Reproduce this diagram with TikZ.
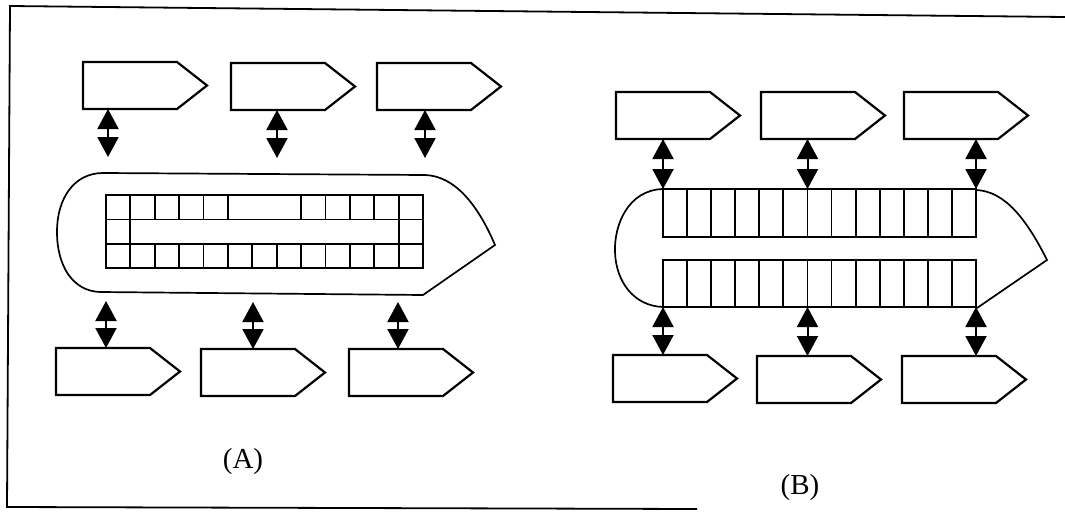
\documentclass[tikz,border=0pt]{standalone}
\usepackage{fontspec}
\setmainfont{Liberation Serif}
\usetikzlibrary{arrows.meta,calc}
\begin{document}
\begin{tikzpicture}[x=1pt,y=-1pt,
  stagebox/.style={minimum width=94pt, minimum height=47pt, inner sep=0pt, outer sep=0pt, anchor=north west},
  stageline/.style={draw, line width=2.2pt, line join=miter},
  dbl/.style={{Triangle[width=21pt,length=20pt]}-{Triangle[width=21pt,length=20pt]}, line width=2pt},
  gridline/.style={line width=1.8pt},
  hull/.style={line width=1.7pt},
  frame/.style={line width=1.8pt},
  lbl/.style={font=\fontsize{29}{33}\selectfont, inner sep=0pt}]
\useasboundingbox (0,0) rectangle (1065,514);
% frame
\draw[frame] (697,509) -- (7,507) -- (10,6) -- (1065,17);

% ---------- (A) ----------
\node[stagebox] (tA1) at (83,62) {};
\node[stagebox] (tA2) at (231,63) {};
\node[stagebox] (tA3) at (377,63) {};
\node[stagebox] (bA1) at (56,348) {};
\node[stagebox] (bA2) at (201,349) {};
\node[stagebox] (bA3) at (349,349) {};

% hull A
\draw[hull] (103,173) -- (425,175) .. controls (455,176) and (478,205) .. (495,245) -- (423,295) -- (100,292)
  .. controls (72,291) and (57,265) .. (57,232) .. controls (57,197) and (75,173) .. (103,173) -- cycle;
% grid A
\draw[gridline] (106,195) rectangle (423,268);
\draw[gridline] (106,219.5) -- (423,219.5) (106,244) -- (423,244);
\foreach \i in {1,2,3,4,5,8,9,10,11,12}
  \draw[gridline] ({106+\i*24.385},195) -- ({106+\i*24.385},219.5);
\foreach \i in {1,12}
  \draw[gridline] ({106+\i*24.385},219.5) -- ({106+\i*24.385},244);
\foreach \i in {1,...,12}
  \draw[gridline] ({106+\i*24.385},244) -- ({106+\i*24.385},268);

\coordinate (eA1) at (108,157);
\coordinate (eA2) at (277,158);
\coordinate (eA3) at (425,158);
\coordinate (fA1) at (106,301);
\coordinate (fA2) at (253,302);
\coordinate (fA3) at (398,302);
\draw[dbl] (tA1.south west -| eA1) -- (eA1);
\draw[dbl] (tA2.south west -| eA2) -- (eA2);
\draw[dbl] (tA3.south west -| eA3) -- (eA3);
\draw[dbl] (fA1) -- (bA1.north west -| fA1);
\draw[dbl] (fA2) -- (bA2.north west -| fA2);
\draw[dbl] (fA3) -- (bA3.north west -| fA3);

\node[lbl] (labA) at (243,462) {(A)};

% ---------- (B) ----------
\node[stagebox] (tB1) at (616,92) {};
\node[stagebox] (tB2) at (761,92) {};
\node[stagebox] (tB3) at (904,92) {};
\node[stagebox] (bB1) at (613,355) {};
\node[stagebox] (bB2) at (757,356) {};
\node[stagebox] (bB3) at (902,356) {};

% hull B
\draw[hull] (663,189) .. controls (628,190) and (614,225) .. (615,252) .. controls (616,282) and (634,306) .. (663,307);
\draw[hull] (976,190) .. controls (1005,191) and (1027,220) .. (1047,260) -- (977,308);
% grids B
\draw[gridline] (663,189) rectangle (976,237);
\draw[gridline] (663,260) rectangle (976,307);
\foreach \i in {1,...,12}{
  \draw[gridline] ({663+\i*24.077},189) -- ({663+\i*24.077},237);
  \draw[gridline] ({663+\i*24.077},260) -- ({663+\i*24.077},307);
}
\coordinate (gBt0) at (663,189);
\coordinate (gBt6) at (807.5,189);
\coordinate (gBt13) at (976,189);
\coordinate (gBb0) at (663,307);
\coordinate (gBb6) at (807.5,307);
\coordinate (gBb13) at (976,307);
\draw[dbl] (tB1.south west -| gBt0) -- (gBt0);
\draw[dbl] (tB2.south west -| gBt6) -- (gBt6);
\draw[dbl] (tB3.south west -| gBt13) -- (gBt13);
\draw[dbl] (gBb0) -- (bB1.north west -| gBb0);
\draw[dbl] (gBb6) -- (bB2.north west -| gBb6);
\draw[dbl] (gBb13) -- (bB3.north west -| gBb13);

\node[lbl] (labB) at (800,488) {(B)};

% stage outlines
\foreach \n in {tA1,tA2,tA3,bA1,bA2,bA3,tB1,tB2,tB3,bB1,bB2,bB3}
  \draw[stageline] (\n.north west) -- (\n.north east) -- ([xshift=30pt]\n.east) -- (\n.south east) -- (\n.south west) -- cycle;
\end{tikzpicture}
\end{document}
